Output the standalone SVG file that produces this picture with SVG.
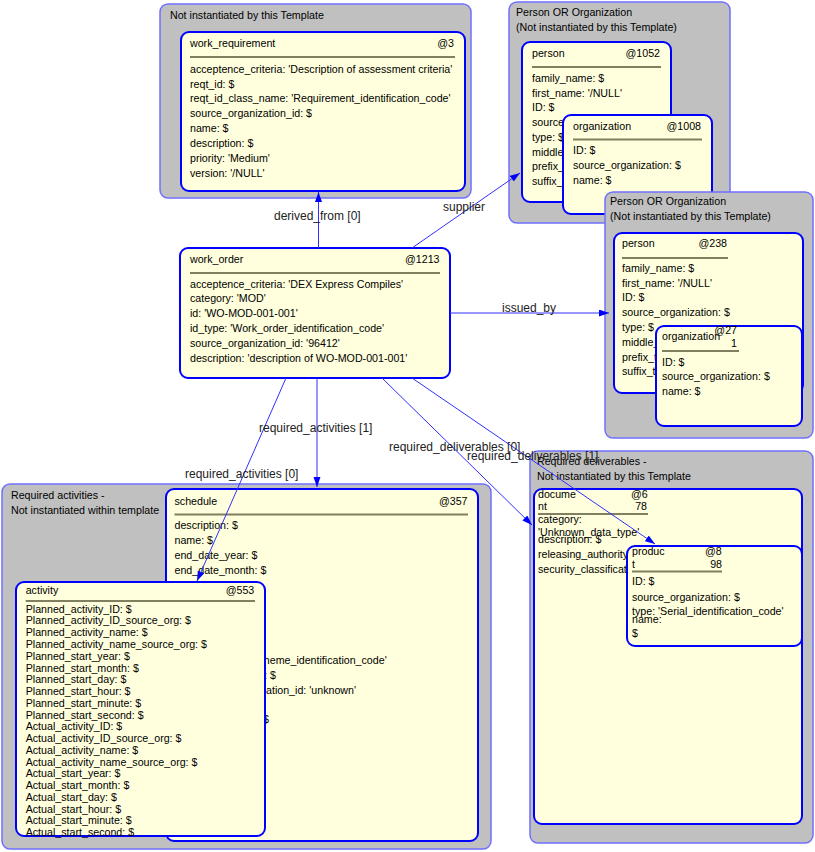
<svg xmlns="http://www.w3.org/2000/svg" width="815" height="852" viewBox="0 0 815 852">
<style>
.grp{fill:#c0c0c0;stroke:#7070ff;stroke-width:1.5}
.node{fill:#ffffdd;stroke:#0000ff;stroke-width:2}
.sep{stroke:#808060;stroke-width:2}
text{font-family:"Liberation Sans",Arial,sans-serif;font-size:10.67px;fill:#000}
.e{text-anchor:end}
.lbl{font-size:12px;fill:#222}
.edge{stroke:#3030ff;stroke-width:1;fill:none;marker-end:url(#arr)}
</style>
<defs>
<marker id="arr" markerUnits="userSpaceOnUse" markerWidth="11" markerHeight="8" refX="10" refY="3.5" orient="auto">
<path d="M0,0 L10,3.5 L0,7 z" fill="#0000ff"/>
</marker>
</defs>
<rect width="815" height="852" fill="#ffffff"/>

<g id="grp_work_requirement">
<rect class="grp" x="160" y="4" width="311" height="194" rx="8"/>
<text x="170" y="18.5">Not instantiated by this Template</text>
</g>
<g id="work_requirement">
<rect class="node" x="181" y="32" width="284" height="159" rx="8"/>
<text x="190" y="47">work_requirement</text>
<text class="e" x="454" y="47">@3</text>
<line class="sep" x1="190" y1="57" x2="455" y2="57"/>
<text x="190" y="72.7">acceptence_criteria: 'Description of assessment criteria'</text>
<text x="190" y="87.6">reqt_id: $</text>
<text x="190" y="102.4">reqt_id_class_name: 'Requirement_identification_code'</text>
<text x="190" y="117.3">source_organization_id: $</text>
<text x="190" y="132.1">name: $</text>
<text x="190" y="147">description: $</text>
<text x="190" y="161.9">priority: 'Medium'</text>
<text x="190" y="176.7">version: '/NULL'</text>
</g>

<g id="grp_supplier">
<rect class="grp" x="509" y="2" width="221" height="221" rx="8"/>
<text x="516" y="16">Person OR Organization</text>
<text x="516" y="30.5">(Not instantiated by this Template)</text>
</g>
<g id="person_1052">
<rect class="node" x="522" y="42" width="149" height="160" rx="8"/>
<text x="532" y="57">person</text>
<text class="e" x="660" y="57">@1052</text>
<line class="sep" x1="532" y1="67" x2="661" y2="67"/>
<text x="532" y="81.7">family_name: $</text>
<text x="532" y="96.5">first_name: '/NULL'</text>
<text x="532" y="111.3">ID: $</text>
<text x="532" y="126">source</text>
<text x="532" y="140.8">type: $</text>
<text x="532" y="155.6">middle</text>
<text x="532" y="170.4">prefix_</text>
<text x="532" y="185.2">suffix_</text>
</g>
<g id="organization_1008">
<rect class="node" x="563" y="115" width="149" height="99" rx="8"/>
<text x="573" y="130">organization</text>
<text class="e" x="701" y="130">@1008</text>
<line class="sep" x1="573" y1="139.5" x2="702" y2="139.5"/>
<text x="573" y="154.3">ID: $</text>
<text x="573" y="169.2">source_organization: $</text>
<text x="573" y="184.2">name: $</text>
</g>

<g id="grp_issued_by">
<rect class="grp" x="605" y="192" width="208" height="246" rx="8"/>
<text x="610" y="205">Person OR Organization</text>
<text x="610" y="219.5">(Not instantiated by this Template)</text>
</g>
<g id="person_238">
<rect class="node" x="614" y="233" width="189" height="160" rx="8"/>
<text x="622" y="247">person</text>
<text class="e" x="727" y="247">@238</text>
<line class="sep" x1="622" y1="258" x2="728" y2="258"/>
<text x="622" y="272">family_name: $</text>
<text x="622" y="286.7">first_name: '/NULL'</text>
<text x="622" y="301.4">ID: $</text>
<text x="622" y="316.2">source_organization: $</text>
<text x="622" y="331">type: $</text>
<text x="622" y="345.8">middle_</text>
<text x="622" y="360.6">prefix_t</text>
<text x="622" y="375.3">suffix_t</text>
</g>
<g id="organization_271">
<rect class="node" x="656" y="326" width="146" height="100" rx="8"/>
<text x="662" y="340">organization</text>
<text class="e" x="737" y="334">@27</text>
<text class="e" x="737" y="347">1</text>
<line class="sep" x1="662" y1="351" x2="739" y2="351"/>
<text x="662" y="365.5">ID: $</text>
<text x="662" y="380.3">source_organization: $</text>
<text x="662" y="395.2">name: $</text>
</g>

<g id="work_order">
<rect class="node" x="180" y="248" width="270" height="130" rx="8"/>
<text x="190" y="262.5">work_order</text>
<text class="e" x="439.5" y="262.5">@1213</text>
<line class="sep" x1="190" y1="273" x2="440" y2="273"/>
<text x="190" y="287.6">acceptence_criteria: 'DEX Express Compiles'</text>
<text x="190" y="302.4">category: 'MOD'</text>
<text x="190" y="317.2">id: 'WO-MOD-001-001'</text>
<text x="190" y="332">id_type: 'Work_order_identification_code'</text>
<text x="190" y="346.8">source_organization_id: '96412'</text>
<text x="190" y="361.6">description: 'description of WO-MOD-001-001'</text>
</g>

<g id="grp_activities">
<rect class="grp" x="2" y="484" width="489" height="365" rx="8"/>
<text x="11" y="498.5">Required activities -</text>
<text x="11" y="513.5">Not instantiated within template</text>
</g>
<g id="schedule_357">
<rect class="node" x="166" y="489" width="312" height="352" rx="8"/>
<text x="174.5" y="504.5">schedule</text>
<text class="e" x="467.5" y="504.5">@357</text>
<line class="sep" x1="174.5" y1="514.5" x2="468" y2="514.5"/>
<text x="174.5" y="529.3">description: $</text>
<text x="174.5" y="544.2">name: $</text>
<text x="174.5" y="559.1">end_date_year: $</text>
<text x="174.5" y="574">end_date_month: $</text>
<text class="e" x="386.7" y="664">heme_identification_code'</text>
<text class="e" x="276" y="678.5">: $</text>
<text class="e" x="356" y="693.5">ation_id: 'unknown'</text>
<text class="e" x="269" y="723">$</text>
</g>
<g id="activity_553">
<rect class="node" x="16" y="582" width="249" height="254" rx="8"/>
<text x="25.7" y="594">activity</text>
<text class="e" x="254.3" y="594">@553</text>
<line class="sep" x1="25.7" y1="601" x2="255" y2="601"/>
<text x="25.7" y="612.7">Planned_activity_ID: $</text>
<text x="25.7" y="624.4">Planned_activity_ID_source_org: $</text>
<text x="25.7" y="636.2">Planned_activity_name: $</text>
<text x="25.7" y="648">Planned_activity_name_source_org: $</text>
<text x="25.7" y="659.7">Planned_start_year: $</text>
<text x="25.7" y="671.5">Planned_start_month: $</text>
<text x="25.7" y="683.2">Planned_start_day: $</text>
<text x="25.7" y="695">Planned_start_hour: $</text>
<text x="25.7" y="706.7">Planned_start_minute: $</text>
<text x="25.7" y="718.5">Planned_start_second: $</text>
<text x="25.7" y="730.2">Actual_activity_ID: $</text>
<text x="25.7" y="742">Actual_activity_ID_source_org: $</text>
<text x="25.7" y="753.7">Actual_activity_name: $</text>
<text x="25.7" y="765.5">Actual_activity_name_source_org: $</text>
<text x="25.7" y="777.2">Actual_start_year: $</text>
<text x="25.7" y="789">Actual_start_month: $</text>
<text x="25.7" y="800.7">Actual_start_day: $</text>
<text x="25.7" y="812.5">Actual_start_hour: $</text>
<text x="25.7" y="824.2">Actual_start_minute: $</text>
<text x="25.7" y="836">Actual_start_second: $</text>
</g>

<g id="grp_deliverables">
<rect class="grp" x="530" y="451" width="283" height="392" rx="8"/>
<text x="537" y="465">Required deliverables -</text>
<text x="537" y="480">Not instantiated by this Template</text>
</g>
<g id="document_678">
<rect class="node" x="534" y="489" width="268" height="335" rx="8"/>
<text x="538" y="497.5">docume</text>
<text x="631" y="497.5">@6</text>
<text x="538" y="510">nt</text>
<text class="e" x="647" y="510">78</text>
<line class="sep" x1="538" y1="514" x2="648" y2="514"/>
<text x="538" y="522.5">category:</text>
<text x="538" y="535.5">'Unknown_data_type'</text>
<text x="538" y="543">description: $</text>
<text x="538" y="558">releasing_authority</text>
<text x="538" y="573">security_classificat</text>
</g>
<g id="product_898">
<rect class="node" x="627" y="546" width="175" height="100" rx="8"/>
<text x="632" y="555">produc</text>
<text x="705" y="555">@8</text>
<text x="632" y="568">t</text>
<text class="e" x="722" y="568">98</text>
<line class="sep" x1="632" y1="571.5" x2="722" y2="571.5"/>
<text x="632" y="585">ID: $</text>
<text x="632" y="600.5">source_organization: $</text>
<text x="632" y="615">type: 'Serial_identification_code'</text>
<text x="632" y="623">name:</text>
<text x="632" y="637">$</text>
</g>

<g id="connectors">
<line class="edge" x1="318.5" y1="248" x2="318.5" y2="192"/>
<line class="edge" x1="412" y1="248" x2="520" y2="173"/>
<line class="edge" x1="450" y1="313" x2="609" y2="313"/>
<line class="edge" x1="317" y1="378" x2="317" y2="487"/>
<line class="edge" x1="286" y1="378" x2="197" y2="581"/>
<line class="edge" x1="382" y1="378" x2="532" y2="525"/>
<line class="edge" x1="412" y1="378" x2="655" y2="544"/>
<text class="lbl" x="274" y="220">derived_from [0]</text>
<text class="lbl" x="443" y="211">supplier</text>
<text class="lbl" x="502" y="312">issued_by</text>
<text class="lbl" x="259" y="432">required_activities [1]</text>
<text class="lbl" x="185" y="478">required_activities [0]</text>
<text class="lbl" x="389" y="451">required_deliverables [0]</text>
<text class="lbl" x="467" y="459.5">required_deliverables [1]</text>
</g>
</svg>
